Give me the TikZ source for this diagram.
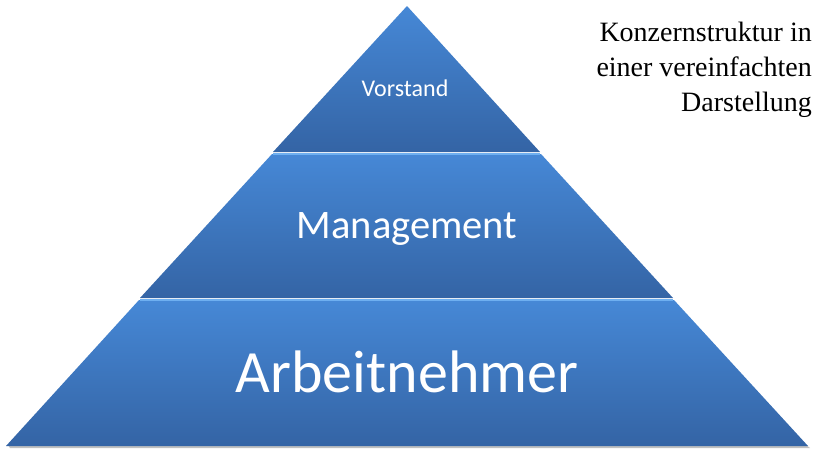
\documentclass[tikz,border=0pt]{standalone}
\usepackage{fontspec}
\setmainfont{Liberation Serif}
\newfontfamily\labelfont{Carlito}
\begin{document}
\begin{tikzpicture}[x=1pt,y=-1pt,
  bevel/.style={draw=lightedge, line width=2.2pt},
  lbl/.style={text=white, inner sep=0pt},
  ttl/.style={anchor=base east, inner sep=0pt, font=\fontsize{28}{32}\selectfont}]
\definecolor{topA}{RGB}{70,136,214}
\definecolor{topB}{RGB}{52,100,165}
\definecolor{lightedge}{RGB}{110,175,240}
\definecolor{shadowc}{RGB}{150,150,150}
\useasboundingbox (0,0) rectangle (821,450);
% shadows
\fill[shadowc!60] (10,448) -- (810,448) -- (806,445) -- (8,445) -- cycle;
% bottom layer
\shade[top color=topA, bottom color=topB] (139,300) -- (674,300) -- (808,446) -- (6,446) -- cycle;
% middle layer
\shade[top color=topA, bottom color=topB] (272,154) -- (541,154) -- (673,298) -- (140,298) -- cycle;
% top layer
\shade[top color=topA, bottom color=topB] (407,6) -- (540,152) -- (273,152) -- cycle;
% separators
\draw[bevel] (273,153.8) -- (540,153.8);
\draw[bevel] (140,300.3) -- (673,300.3);
\node[lbl, font=\labelfont\fontsize{24}{28}\selectfont] (vorstand) at (405,88) {Vorstand};
\node[lbl, font=\labelfont\fontsize{40.5}{46}\selectfont] (mgmt) at (407,229) {Management};
\node[lbl, font=\labelfont\fontsize{60}{66}\selectfont] (arb) at (407,372) {Arbeitnehmer};
\node[ttl] (t1) at (812,41) {Konzernstruktur in};
\node[ttl] (t2) at (812,76) {einer vereinfachten};
\node[ttl] (t3) at (812,111) {Darstellung};
\end{tikzpicture}
\end{document}
